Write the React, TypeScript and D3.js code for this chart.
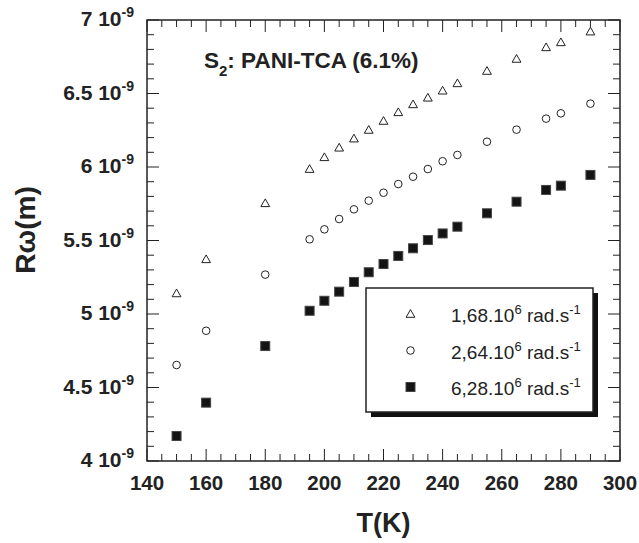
import React from "react";
import * as d3 from "d3";

const temps = [150, 160, 180, 195, 200, 205, 210, 215, 220, 225, 230, 235, 240, 245, 255, 265, 275, 280, 290];
const seriesTri = [5.14, 5.372, 5.753, 5.986, 6.066, 6.131, 6.193, 6.252, 6.313, 6.372, 6.426, 6.471, 6.519, 6.569, 6.653, 6.735, 6.814, 6.848, 6.921];
const seriesCirc = [4.653, 4.886, 5.268, 5.508, 5.576, 5.646, 5.712, 5.771, 5.825, 5.884, 5.934, 5.986, 6.039, 6.082, 6.172, 6.254, 6.329, 6.365, 6.431];
const seriesSq = [4.17, 4.397, 4.782, 5.022, 5.09, 5.152, 5.218, 5.284, 5.34, 5.395, 5.447, 5.503, 5.548, 5.594, 5.685, 5.764, 5.844, 5.873, 5.946];
const xTicks = [140, 160, 180, 200, 220, 240, 260, 280, 300];
const yTicks = [4, 4.5, 5, 5.5, 6, 6.5, 7];
const yTickLabels = ["4", "4.5", "5", "5.5", "6", "6.5", "7"];
const legendLabels = ["1,68.10", "2,64.10", "6,28.10"];

const W = 639, H = 543;
const L = 147, R = 620, T = 20, B = 461;
const font = "'Liberation Sans', Arial, Helvetica, sans-serif";

export default function App() {
  const x = d3.scaleLinear().domain([140, 300]).range([L, R]);
  const y = d3.scaleLinear().domain([4, 7]).range([B, T]);
  const xMinor = d3.range(140, 300.01, 5);
  const yMinor = d3.range(40, 70.01, 1).map((v) => v / 10);
  const triPath = (cx: number, cy: number) => {
    const s = 4.4;
    return `M${cx},${cy - s}L${cx + s},${cy + s * 0.75}L${cx - s},${cy + s * 0.75}Z`;
  };
  const marker = (kind: number, cx: number, cy: number, key: any) => {
    if (kind === 0) return <path key={key} d={triPath(cx, cy)} fill="none" stroke="#222" strokeWidth={1} />;
    if (kind === 1) return <circle key={key} cx={cx} cy={cy} r={3.8} fill="none" stroke="#222" strokeWidth={1} />;
    return <rect key={key} x={cx - 4.5} y={cy - 4.5} width={9} height={9} fill="#141414" stroke="#444" strokeWidth={1} />;
  };
  const series = [seriesTri, seriesCirc, seriesSq];
  const legX = 366, legY = 288, legW = 227, legH = 124;
  return (
    <svg width={W} height={H} style={{ position: "absolute", left: 0, top: 0, background: "#fff" }} fontFamily={font}>
      {/* frame */}
      <rect x={L} y={T} width={R - L} height={B - T} fill="none" stroke="#222" strokeWidth={1.5} />
      {/* x ticks */}
      {xMinor.map((v) => {
        const major = v % 20 === 0;
        const len = major ? 12 : 7;
        return (
          <g key={"xt" + v} stroke="#222" strokeWidth={1}>
            <line x1={x(v)} x2={x(v)} y1={B} y2={B - len} />
            <line x1={x(v)} x2={x(v)} y1={T} y2={T + len} />
          </g>
        );
      })}
      {yMinor.map((v) => {
        const major = Math.abs(v * 2 - Math.round(v * 2)) < 1e-6;
        const len = major ? 12 : 7;
        return (
          <g key={"yt" + v} stroke="#222" strokeWidth={1}>
            <line x1={L} x2={L + len} y1={y(v)} y2={y(v)} />
            <line x1={R} x2={R - len} y1={y(v)} y2={y(v)} />
          </g>
        );
      })}
      {/* x tick labels */}
      {xTicks.map((v) => (
        <text key={"xl" + v} x={x(v)} y={B + 29} textAnchor="middle" fontSize={20.5} fontWeight="bold" fill="#222">
          {v}
        </text>
      ))}
      {/* y tick labels */}
      {yTicks.map((v, i) => (
        <text key={"yl" + v} x={L - 13} y={y(v) + 6} textAnchor="end" fontSize={21} fontWeight="bold" fill="#222">
          <tspan>{yTickLabels[i] + " 10"}</tspan>
          <tspan dy={-9} fontSize={14}>-9</tspan>
        </text>
      ))}
      {/* axis titles */}
      <text x={(L + R) / 2} y={532} textAnchor="middle" fontSize={27} fontWeight="bold" fill="#222">T(K)</text>
      <text transform={`translate(35,${230}) rotate(-90)`} textAnchor="middle" fontSize={28} fontWeight="bold" fill="#222">Rω(m)</text>
      {/* title */}
      <text x={204} y={68} fontSize={22.5} fontWeight="bold" fill="#222">
        <tspan>S</tspan>
        <tspan dy={8} fontSize={15}>2</tspan>
        <tspan dy={-8}>: PANI-TCA (6.1%)</tspan>
      </text>
      {/* data */}
      {series.map((s, k) => (
        <g key={"s" + k}>{temps.map((t, i) => marker(k, x(t), y(s[i]), k + "-" + i))}</g>
      ))}
      {/* legend */}
      <rect x={legX + 5} y={legY + 5} width={legW} height={legH} fill="#111" />
      <rect x={legX} y={legY} width={legW} height={legH} fill="#fff" stroke="#222" strokeWidth={1.5} />
      {legendLabels.map((lab, k) => {
        const cy = legY + 26 + k * 36.5;
        return (
          <g key={"lg" + k}>
            {marker(k, 410.5, cy, "lm" + k)}
            <text x={451} y={cy + 8} fontSize={19} fill="#222">
              <tspan>{lab}</tspan>
              <tspan dy={-8} fontSize={13}>6</tspan>
              <tspan dy={8}> rad.s</tspan>
              <tspan dy={-8} fontSize={13}>-1</tspan>
            </text>
          </g>
        );
      })}
    </svg>
  );
}
